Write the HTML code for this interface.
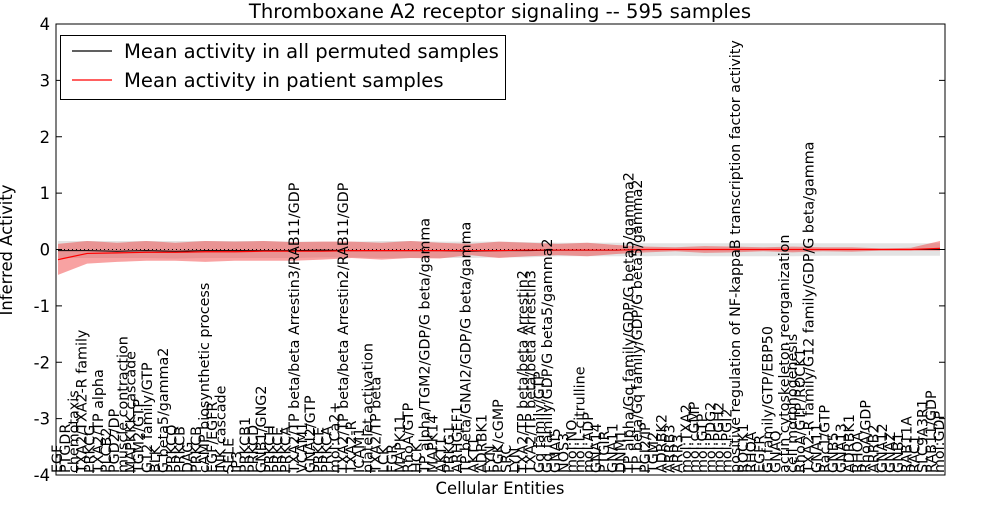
<!DOCTYPE html>
<html><head><meta charset="utf-8"><style>
body{margin:0;background:#fff;}
svg text{font-family:"DejaVu Sans","Liberation Sans",sans-serif;}
</style></head><body>
<svg id="chart" width="1000" height="500" xmlns="http://www.w3.org/2000/svg">
<rect width="1000" height="500" fill="#fff"/>
<text x="500" y="18" font-size="19.6" text-anchor="middle">Thromboxane A2 receptor signaling -- 595 samples</text>
<text x="500" y="494" font-size="16.4" text-anchor="middle">Cellular Entities</text>
<text transform="translate(12,250) rotate(-90)" font-size="16.4" text-anchor="middle">Inferred Activity</text>
<g id="plot"></g>
</svg>
<script>
const labels = ["EGF","PTGDR","chemotaxis","TXA2/TXA2-R family","PRKCG","TXA2/TP alpha","PLCB2","PGD2/DP","muscle contraction","MAPKKK cascade","TGM2/GTP","G12 family/GTP","BLK","G beta5/gamma2","PRKCQ","PRKCB","DAG","PRKCB","cAMP biosynthetic process","EGF/EGFR","JNK cascade","SELE","IP3","PRKCB1","PRKCD","GNB1/GNG2","PRKCH","PRKCE","PRKCA","TXA2/TP beta/beta Arrestin3/RAB11/GDP","VCAM1","GNAI2/GTP","PRKCE","PRKCA","mol:Ca2+","TXA2/TP beta/beta Arrestin2/RAB11/GDP","TXA2-R","ICAM1","platelet activation","TXA2/TP beta","LCK","FGR","MAPK11","RhoA/GTP","HCK","TP alpha/TGM2/GDP/G beta/gamma","MAPK14","AKT1","PRKG1","ARHGEF1","TP beta/GNAI2/GDP/G beta/gamma","AKT1","ADRBK1","FYN","PGK/cGMP","SRC","LYN","TXA2/TP beta/beta Arrestin2","TXA2/TP beta/beta Arrestin3","Gq family/GTP","Gq family/GDP/G beta5/gamma2","GNAI5","NOS3","mol:NO","mol:L-citrulline","mol:ADP","GNA14","PTGIR","GNA11","DNM1","TP alpha/Gq family/GDP/G beta5/gamma2","TP beta/Gq family/GDP/G beta5/gamma2","PGI2/IP","TGM2","ADRBK2","ARRB3","ARR3","mol:TXA2","mol:cGMP","mol:GTP","mol:PDG2","mol:PGH2","mol:PGI2","positive regulation of NF-kappaB transcription factor activity","ROCK1","RHOA","EGFR","Gi family/GTP/EBP50","GNAQ","actin cytoskeleton reorganization","cell morphogenesis","RhoA/GTP/ROCK1","TXA2-R family/G12 family/GDP/G beta/gamma","GNA11","Rac1/GTP","GNB5","GNA13","ADRBK1","RHOA","RhoA/GDP","ARRB2","GNA12","GNAZ","GNB1","RAB11A","RAC1","SLC9A3R1","RAB11/GDP","mol:GDP"];
const samplePos = [0,0.033,0.067,0.1,0.133,0.167,0.2,0.233,0.267,0.3,0.333,0.367,0.4,0.433,0.467,0.5,0.533,0.567,0.6,0.633,0.667,0.7,0.733,0.767,0.8,0.833,0.867,0.9,0.933,0.967,1];
const meanPermuted = [-0.02,-0.02,-0.03,-0.02,-0.03,-0.02,-0.02,-0.02,-0.02,-0.01,-0.02,-0.02,-0.02,-0.02,-0.03,-0.02,-0.02,-0.01,-0.01,-0.01,0,0,0,0,0,0,0,0,0,0,0];
const meanPatient = [-0.18,-0.07,-0.06,-0.05,-0.05,-0.04,-0.04,-0.03,-0.03,-0.03,-0.02,-0.02,-0.02,-0.02,-0.02,-0.02,-0.01,-0.01,-0.01,-0.01,0,0,0,0,0,0,0,0,0,0,0.02];
const permLow = [-0.15,-0.15,-0.15,-0.15,-0.16,-0.15,-0.15,-0.15,-0.15,-0.14,-0.14,-0.15,-0.15,-0.15,-0.15,-0.14,-0.14,-0.12,-0.12,-0.12,-0.12,-0.11,-0.12,-0.12,-0.12,-0.12,-0.11,-0.11,-0.11,-0.11,-0.11];
const permHigh = [0.15,0.15,0.15,0.15,0.15,0.15,0.15,0.15,0.14,0.14,0.14,0.15,0.15,0.14,0.14,0.14,0.13,0.12,0.12,0.12,0.11,0.11,0.11,0.11,0.11,0.11,0.11,0.11,0.11,0.11,0.11];
const patLow = [-0.45,-0.25,-0.22,-0.2,-0.2,-0.22,-0.2,-0.2,-0.2,-0.18,-0.15,-0.18,-0.15,-0.16,-0.1,-0.15,-0.12,-0.1,-0.12,-0.08,-0.05,-0.03,-0.06,-0.05,-0.03,-0.05,-0.03,-0.04,-0.02,-0.02,-0.02];
const patHigh = [0.1,0.15,0.12,0.15,0.12,0.15,0.14,0.15,0.13,0.14,0.14,0.12,0.15,0.12,0.1,0.14,0.12,0.1,0.12,0.08,0.05,0.04,0.06,0.05,0.04,0.05,0.04,0.04,0.02,0.03,0.15];
const yTicks = [-4,-3,-2,-1,0,1,2,3,4];
const legendLabels = ["Mean activity in all permuted samples","Mean activity in patient samples"];

const NS="http://www.w3.org/2000/svg";
const X0=56,X1=945,Y0=24,Y1=475,DX0=58,DX1=940;
const xf=f=>DX0+(DX1-DX0)*f;
const y=v=>Y0+(4-v)*(Y1-Y0)/8;
const g=document.getElementById('plot');
function mk(t,a){const e=document.createElementNS(NS,t);for(const k in a)e.setAttribute(k,a[k]);g.appendChild(e);return e;}
function band(lo,hi){let d='';samplePos.forEach((f,i)=>d+=(i?'L':'M')+xf(f)+','+y(hi[i]));for(let i=samplePos.length-1;i>=0;i--)d+='L'+xf(samplePos[i])+','+y(lo[i]);return d+'Z';}
function line(arr){return samplePos.map((f,i)=>(i?'L':'M')+xf(f)+','+y(arr[i])).join('');}
let e;
e=mk('path',{d:band(permLow,permHigh),fill:'#b0b0b0','fill-opacity':0.35});


e=mk('path',{d:band(patLow,patHigh),fill:'#f03030','fill-opacity':0.45});


e=mk('line',{x1:X0,x2:X1,y1:y(0),y2:y(0),stroke:'#000','stroke-dasharray':'1,3','stroke-width':1});


e=mk('path',{d:line(meanPermuted),fill:'none',stroke:'#000','stroke-width':1});


e=mk('path',{d:line(meanPatient),fill:'none',stroke:'#f00','stroke-width':1.2});


labels.forEach((l,i)=>{
  const x=xf(i/(labels.length-1))+4;
  const t=mk('text',{transform:`translate(${x},473) rotate(-90)`,'font-size':14.3});
  t.textContent=l;
  
  
});
yTicks.forEach(v=>{
  const t=mk('text',{x:X0-6,y:y(v)+6,'font-size':16.4,'text-anchor':'end'});
  t.textContent=v;
  
  
  mk('line',{x1:X0,x2:X0+6,y1:y(v),y2:y(v),stroke:'#000'});
  mk('line',{x1:X1-6,x2:X1,y1:y(v),y2:y(v),stroke:'#000'});
});
e=mk('rect',{x:X0,y:Y0,width:X1-X0,height:Y1-Y0,fill:'none',stroke:'#000','stroke-width':1});


e=mk('rect',{x:60.5,y:35.5,width:445,height:64,fill:'#fff',stroke:'#000'});


['#000','#f00'].forEach((c,i)=>{
  const yy=51+i*29;
  const l=mk('line',{x1:72,x2:112,y1:yy,y2:yy,stroke:c,'stroke-width':1.2});
  
  
  const t=mk('text',{x:124,y:yy+7,'font-size':19.6});
  t.textContent=legendLabels[i];
  
  
});
</script>
</body></html>
